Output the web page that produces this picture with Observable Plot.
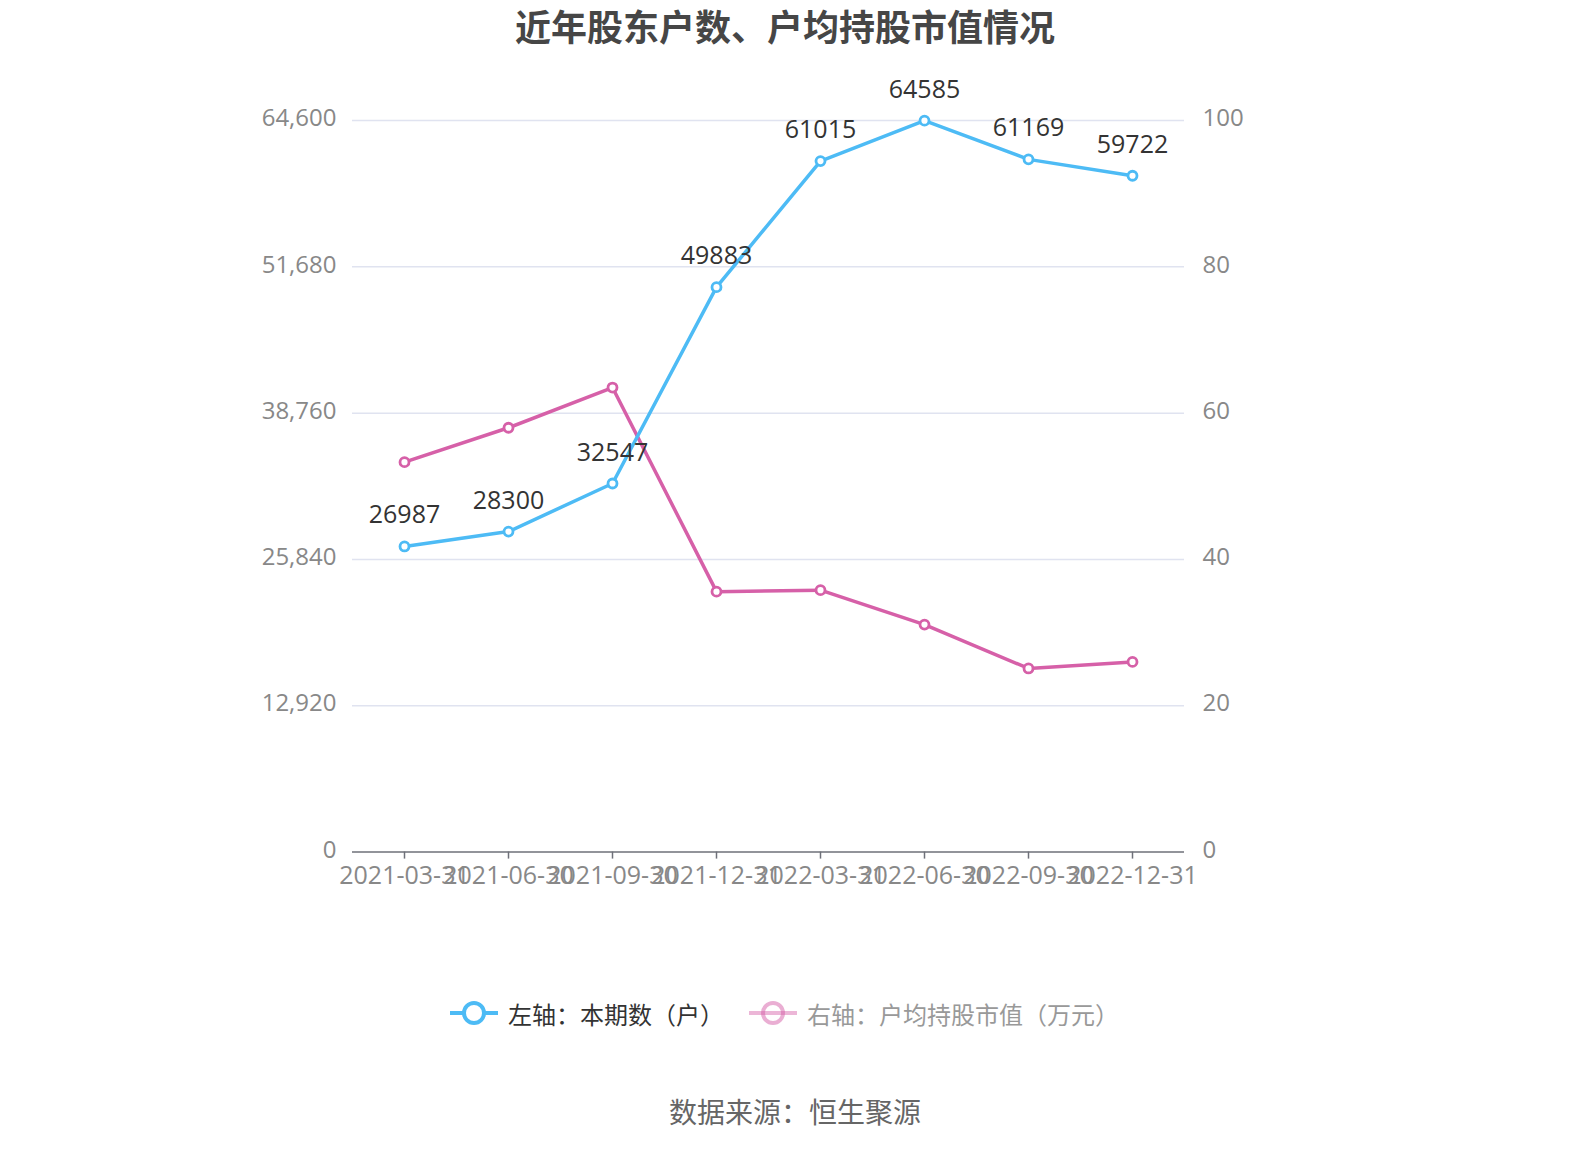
<!DOCTYPE html>
<html><head><meta charset="utf-8">
<script src="https://cdn.jsdelivr.net/npm/d3@7"></script>
<script src="https://cdn.jsdelivr.net/npm/@observablehq/plot@0.6"></script>
<style>
body{margin:0;background:#fff;width:1590px;height:1150px;position:relative;overflow:hidden;font-family:"Noto Sans CJK SC","Open Sans",sans-serif}
#title{position:absolute;top:0;left:0;width:1570px;height:50px;line-height:50px;text-align:center;font-size:36px;font-weight:700;color:#464646}
#chart{position:absolute;top:50px;left:0}
#legend{position:absolute;top:990px;left:450px;height:46px;display:flex;align-items:center;font-size:24px}
.item{display:flex;align-items:center}
.item svg{margin-right:10px}
#source{position:absolute;top:1090px;left:0;width:1590px;text-align:center;font-size:28px;line-height:42px;color:#666}
</style></head><body>
<div id="title"></div>
<div id="chart"></div>
<div id="legend"></div>
<div id="source"></div>
<script>
const titleText = "近年股东户数、户均持股市值情况";
const sourceText = "数据来源：恒生聚源";
const dates = ["2021-03-31","2021-06-30","2021-09-30","2021-12-31","2022-03-31","2022-06-30","2022-09-30","2022-12-31"];
const holders = [26987, 28300, 32547, 49883, 61015, 64585, 61169, 59722];
const avgValue = [53.3, 58.0, 63.5, 35.6, 35.8, 31.1, 25.1, 26.0];
const leftTicks = [0, 12920, 25840, 38760, 51680, 64600];
const rightTicks = [0, 20, 40, 60, 80, 100];
const seriesNames = ["左轴：本期数（户）", "右轴：户均持股市值（万元）"];
const blue = "#4dbbf5", pink = "#d660a8";

document.getElementById("title").textContent = titleText;
document.getElementById("source").textContent = sourceText;

const k = leftTicks[leftTicks.length-1] / rightTicks[rightTicks.length-1];
const rows = dates.map((d,i)=>({date:d, holders:holders[i], value:avgValue[i]*k}));
const numFont = "'Open Sans', sans-serif";

const chart = Plot.plot({
  width:1590, height:860,
  marginTop:70, marginBottom:58.4, marginLeft:352, marginRight:406,
  style:{fontFamily:numFont, background:"transparent"},
  x:{type:"point", domain:dates, padding:0.5, axis:null},
  y:{domain:[0, leftTicks[leftTicks.length-1]], axis:null},
  marks:[
    Plot.gridY(leftTicks.slice(1), {stroke:"#e0e3f0", strokeOpacity:1, strokeWidth:1.5}),
    Plot.axisY(leftTicks, {anchor:"left", tickSize:0, tickPadding:16, dy:-2, tickFormat:d3.format(","), fontSize:24, fill:"#888", label:null}),
    Plot.axisY(rightTicks.map(d=>d*k), {anchor:"right", tickSize:0, tickPadding:18, dy:-2, tickFormat:d=>d3.format("d")(d/k), fontSize:24, fill:"#888", label:null}),
    Plot.ruleY([0], {stroke:"#6e7079", strokeWidth:1.5}),
    Plot.axisX(dates, {anchor:"bottom", tickSize:7, tickPadding:7, stroke:"#6e7079", strokeWidth:1.5, fill:"#888", fontSize:25, label:null}),
    Plot.line(rows, {x:"date", y:"value", stroke:pink, strokeWidth:3.5}),
    Plot.dot(rows, {x:"date", y:"value", r:4.5, fill:"#fff", stroke:pink, strokeWidth:2.8}),
    Plot.line(rows, {x:"date", y:"holders", stroke:blue, strokeWidth:3.5}),
    Plot.dot(rows, {x:"date", y:"holders", r:4.5, fill:"#fff", stroke:blue, strokeWidth:2.8}),
    Plot.text(rows, {x:"date", y:"holders", text:d=>String(d.holders), dy:-31, fontSize:25, fill:"#333"})
  ]
});
document.getElementById("chart").appendChild(chart);

function icon(color, faded){
  if(faded){
    return `<svg width="48" height="26"><circle cx="24" cy="13" r="10" fill="#fff" stroke="${color}" stroke-width="4" opacity="0.5"/><line x1="0" y1="13" x2="48" y2="13" stroke="${color}" stroke-width="4" opacity="0.45"/></svg>`;
  }
  return `<svg width="48" height="26"><line x1="0" y1="13" x2="48" y2="13" stroke="${color}" stroke-width="4"/><circle cx="24" cy="13" r="10" fill="#fff" stroke="${color}" stroke-width="4"/></svg>`;
}
document.getElementById("legend").innerHTML =
  `<div class="item" style="color:#333;margin-right:25px">${icon(blue,false)}<span>${seriesNames[0]}</span></div>` +
  `<div class="item" style="color:#999">${icon(pink,true)}<span>${seriesNames[1]}</span></div>`;
</script>
</body></html>
